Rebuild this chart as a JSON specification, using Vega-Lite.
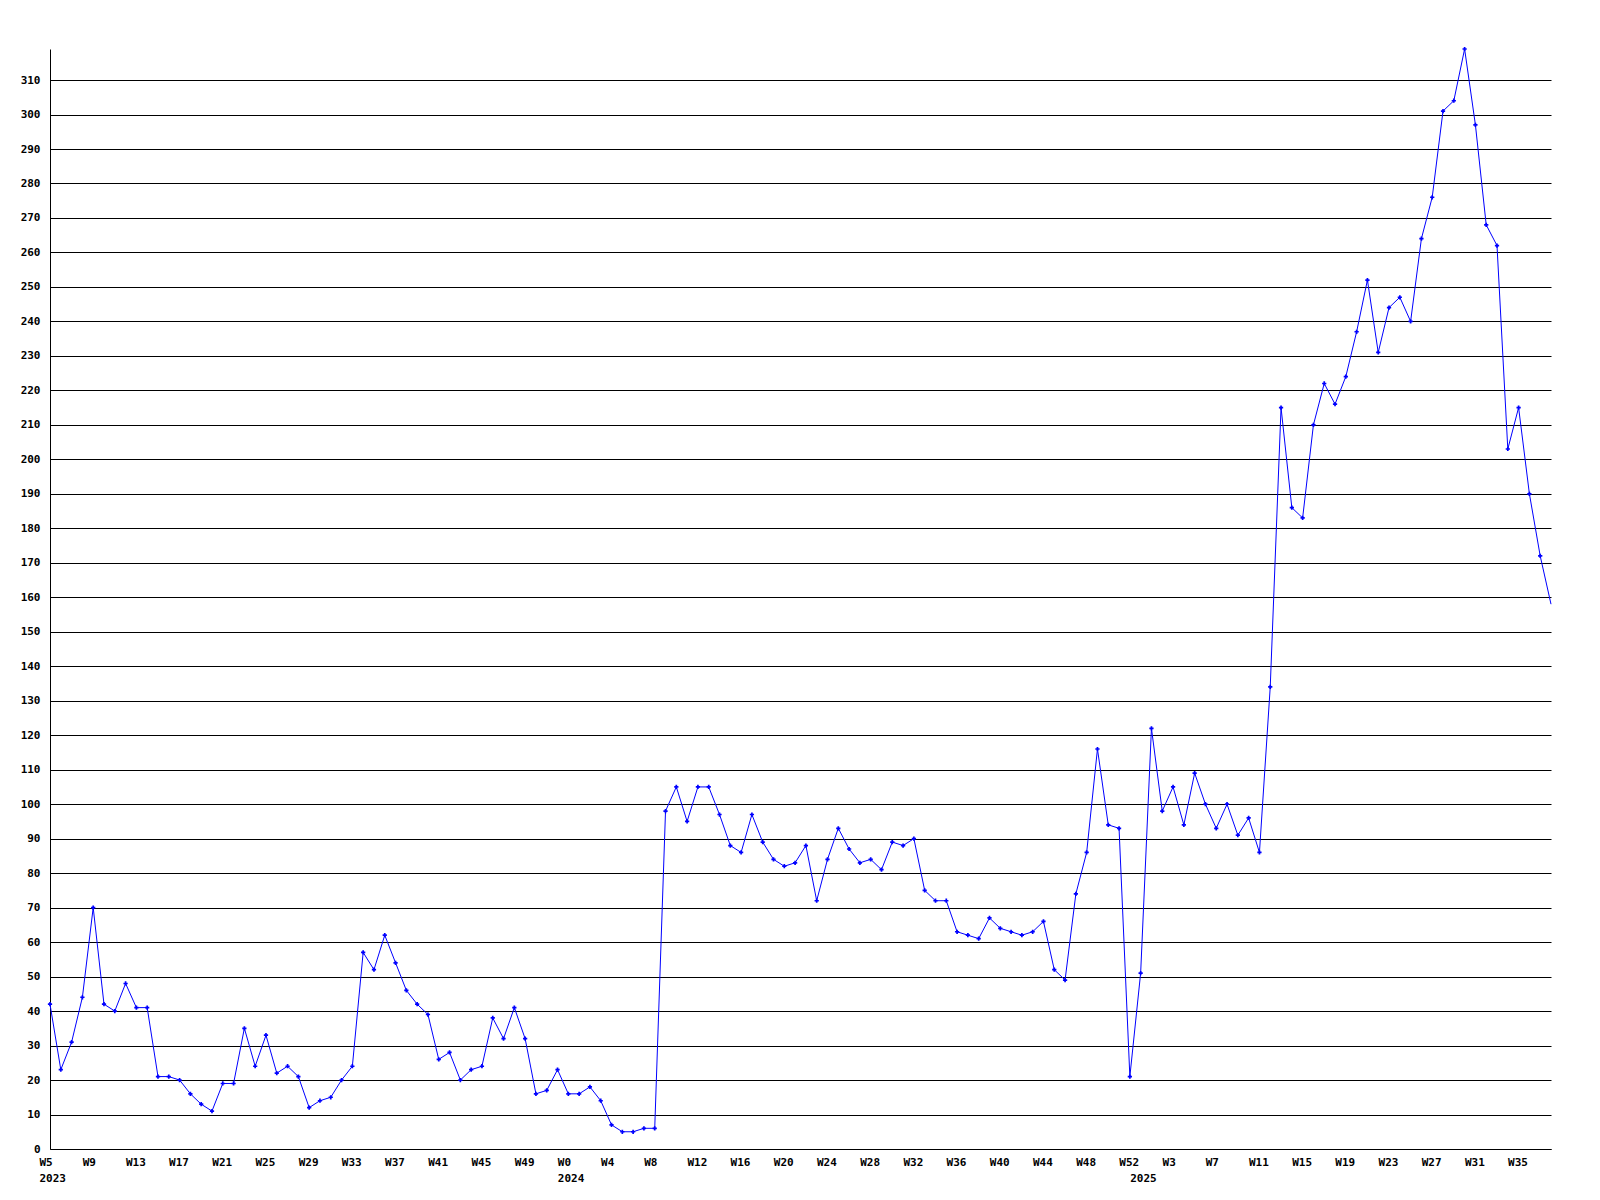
{
  "$schema": "https://vega.github.io/schema/vega-lite/v6.json",
  "width": 1501,
  "height": 1100,
  "autosize": {"type": "none"},
  "padding": {"left": 50, "top": 49, "right": 49, "bottom": 51},
  "background": "white",
  "config": {
    "view": {"stroke": null},
    "axis": {"labelFont": "DejaVu Sans Mono", "labelFontWeight": "bold", "labelFontSize": 11, "labelColor": "black"}
  },
  "data": {"values": [
    {"week": "2023 W5", "count": 42}, {"week": "2023 W6", "count": 23}, {"week": "2023 W7", "count": 31}, {"week": "2023 W8", "count": 44},
    {"week": "2023 W9", "count": 70}, {"week": "2023 W10", "count": 42}, {"week": "2023 W11", "count": 40}, {"week": "2023 W12", "count": 48},
    {"week": "2023 W13", "count": 41}, {"week": "2023 W14", "count": 41}, {"week": "2023 W15", "count": 21}, {"week": "2023 W16", "count": 21},
    {"week": "2023 W17", "count": 20}, {"week": "2023 W18", "count": 16}, {"week": "2023 W19", "count": 13}, {"week": "2023 W20", "count": 11},
    {"week": "2023 W21", "count": 19}, {"week": "2023 W22", "count": 19}, {"week": "2023 W23", "count": 35}, {"week": "2023 W24", "count": 24},
    {"week": "2023 W25", "count": 33}, {"week": "2023 W26", "count": 22}, {"week": "2023 W27", "count": 24}, {"week": "2023 W28", "count": 21},
    {"week": "2023 W29", "count": 12}, {"week": "2023 W30", "count": 14}, {"week": "2023 W31", "count": 15}, {"week": "2023 W32", "count": 20},
    {"week": "2023 W33", "count": 24}, {"week": "2023 W34", "count": 57}, {"week": "2023 W35", "count": 52}, {"week": "2023 W36", "count": 62},
    {"week": "2023 W37", "count": 54}, {"week": "2023 W38", "count": 46}, {"week": "2023 W39", "count": 42}, {"week": "2023 W40", "count": 39},
    {"week": "2023 W41", "count": 26}, {"week": "2023 W42", "count": 28}, {"week": "2023 W43", "count": 20}, {"week": "2023 W44", "count": 23},
    {"week": "2023 W45", "count": 24}, {"week": "2023 W46", "count": 38}, {"week": "2023 W47", "count": 32}, {"week": "2023 W48", "count": 41},
    {"week": "2023 W49", "count": 32}, {"week": "2023 W50", "count": 16}, {"week": "2023 W51", "count": 17}, {"week": "2023 W52", "count": 23},
    {"week": "2024 W0", "count": 16}, {"week": "2024 W1", "count": 16}, {"week": "2024 W2", "count": 18}, {"week": "2024 W3", "count": 14},
    {"week": "2024 W4", "count": 7}, {"week": "2024 W5", "count": 5}, {"week": "2024 W6", "count": 5}, {"week": "2024 W7", "count": 6},
    {"week": "2024 W8", "count": 6}, {"week": "2024 W9", "count": 98}, {"week": "2024 W10", "count": 105}, {"week": "2024 W11", "count": 95},
    {"week": "2024 W12", "count": 105}, {"week": "2024 W13", "count": 105}, {"week": "2024 W14", "count": 97}, {"week": "2024 W15", "count": 88},
    {"week": "2024 W16", "count": 86}, {"week": "2024 W17", "count": 97}, {"week": "2024 W18", "count": 89}, {"week": "2024 W19", "count": 84},
    {"week": "2024 W20", "count": 82}, {"week": "2024 W21", "count": 83}, {"week": "2024 W22", "count": 88}, {"week": "2024 W23", "count": 72},
    {"week": "2024 W24", "count": 84}, {"week": "2024 W25", "count": 93}, {"week": "2024 W26", "count": 87}, {"week": "2024 W27", "count": 83},
    {"week": "2024 W28", "count": 84}, {"week": "2024 W29", "count": 81}, {"week": "2024 W30", "count": 89}, {"week": "2024 W31", "count": 88},
    {"week": "2024 W32", "count": 90}, {"week": "2024 W33", "count": 75}, {"week": "2024 W34", "count": 72}, {"week": "2024 W35", "count": 72},
    {"week": "2024 W36", "count": 63}, {"week": "2024 W37", "count": 62}, {"week": "2024 W38", "count": 61}, {"week": "2024 W39", "count": 67},
    {"week": "2024 W40", "count": 64}, {"week": "2024 W41", "count": 63}, {"week": "2024 W42", "count": 62}, {"week": "2024 W43", "count": 63},
    {"week": "2024 W44", "count": 66}, {"week": "2024 W45", "count": 52}, {"week": "2024 W46", "count": 49}, {"week": "2024 W47", "count": 74},
    {"week": "2024 W48", "count": 86}, {"week": "2024 W49", "count": 116}, {"week": "2024 W50", "count": 94}, {"week": "2024 W51", "count": 93},
    {"week": "2024 W52", "count": 21},
    {"week": "2025 W0", "count": 51}, {"week": "2025 W1", "count": 122}, {"week": "2025 W2", "count": 98}, {"week": "2025 W3", "count": 105},
    {"week": "2025 W4", "count": 94}, {"week": "2025 W5", "count": 109}, {"week": "2025 W6", "count": 100}, {"week": "2025 W7", "count": 93},
    {"week": "2025 W8", "count": 100}, {"week": "2025 W9", "count": 91}, {"week": "2025 W10", "count": 96}, {"week": "2025 W11", "count": 86},
    {"week": "2025 W12", "count": 134}, {"week": "2025 W13", "count": 215}, {"week": "2025 W14", "count": 186}, {"week": "2025 W15", "count": 183},
    {"week": "2025 W16", "count": 210}, {"week": "2025 W17", "count": 222}, {"week": "2025 W18", "count": 216}, {"week": "2025 W19", "count": 224},
    {"week": "2025 W20", "count": 237}, {"week": "2025 W21", "count": 252}, {"week": "2025 W22", "count": 231}, {"week": "2025 W23", "count": 244},
    {"week": "2025 W24", "count": 247}, {"week": "2025 W25", "count": 240}, {"week": "2025 W26", "count": 264}, {"week": "2025 W27", "count": 276},
    {"week": "2025 W28", "count": 301}, {"week": "2025 W29", "count": 304}, {"week": "2025 W30", "count": 319}, {"week": "2025 W31", "count": 297},
    {"week": "2025 W32", "count": 268}, {"week": "2025 W33", "count": 262}, {"week": "2025 W34", "count": 203}, {"week": "2025 W35", "count": 215},
    {"week": "2025 W36", "count": 190}, {"week": "2025 W37", "count": 172}, {"week": "2025 W38", "count": 158}
  ]},
  "encoding": {
    "x": {
      "field": "week", "type": "ordinal", "sort": null,
      "scale": {"type": "point", "padding": 0},
      "axis": {
        "title": null,
        "values": ["2023 W5", "2023 W9", "2023 W13", "2023 W17", "2023 W21", "2023 W25", "2023 W29", "2023 W33", "2023 W37", "2023 W41", "2023 W45", "2023 W49",
                   "2024 W0", "2024 W4", "2024 W8", "2024 W12", "2024 W16", "2024 W20", "2024 W24", "2024 W28", "2024 W32", "2024 W36", "2024 W40", "2024 W44", "2024 W48", "2024 W52",
                   "2025 W0", "2025 W3", "2025 W7", "2025 W11", "2025 W15", "2025 W19", "2025 W23", "2025 W27", "2025 W31", "2025 W35"],
        "labelExpr": "datum.value == '2025 W0' ? [' ', '2025'] : indexof(['2023 W5','2024 W0'], datum.value) >= 0 ? [split(datum.value,' ')[1], split(datum.value,' ')[0]] : split(datum.value,' ')[1]",
        "labelAngle": 0,
        "labelAlign": "left",
        "labelOffset": -11,
        "labelBaseline": "top",
        "labelPadding": 7,
        "labelLineHeight": 16,
        "labelOverlap": false,
        "ticks": false,
        "tickSize": 0,
        "grid": false,
        "domain": true,
        "domainColor": "black",
        "domainWidth": 1
      }
    },
    "y": {
      "field": "count", "type": "quantitative",
      "scale": {"domain": [0, 319], "nice": false, "zero": true},
      "axis": {
        "title": null,
        "values": [0, 10, 20, 30, 40, 50, 60, 70, 80, 90, 100, 110, 120, 130, 140, 150, 160, 170, 180, 190, 200, 210, 220, 230, 240, 250, 260, 270, 280, 290, 300, 310],
        "grid": true,
        "gridColor": "black",
        "gridOpacity": 1,
        "gridWidth": 1,
        "ticks": false,
        "tickSize": 0,
        "labelPadding": 10,
        "labelOverlap": false,
        "domainColor": "black",
        "domainWidth": 1
      }
    }
  },
  "layer": [
    {"mark": {"type": "line", "color": "#0000ff", "strokeWidth": 1}},
    {
      "transform": [{"filter": "datum.week != '2025 W38'"}],
      "mark": {"type": "point", "shape": "cross", "filled": true, "color": "#0000ff", "size": 18, "opacity": 1}
    }
  ]
}
